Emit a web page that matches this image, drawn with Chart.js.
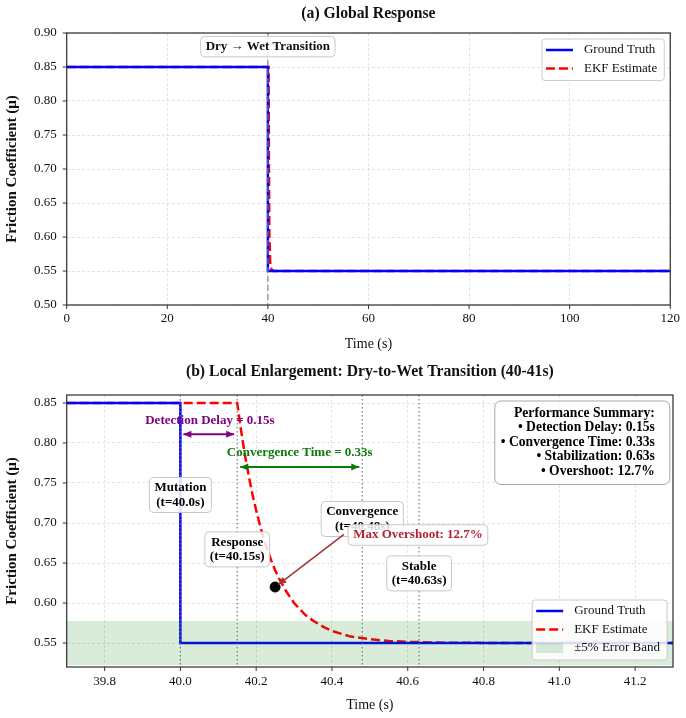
<!DOCTYPE html>
<html>
<head>
<meta charset="utf-8">
<script src="https://cdn.jsdelivr.net/npm/chart.js@4.4.1/dist/chart.umd.min.js"></script>
<style>
  html, body { margin: 0; padding: 0; background: #fff; }
  #wrap { position: relative; width: 686px; height: 718px; }
  canvas { position: absolute; left: 0; }
</style>
</head>
<body>
<div id="wrap">
  <canvas id="globalChart" width="686" height="359" style="top:0"></canvas>
  <canvas id="localChart" width="686" height="359" style="top:359px"></canvas>
</div>
<script>
// ---- data ----
const globalXTicks = [0, 20, 40, 60, 80, 100, 120];
const globalYTicks = [0.50, 0.55, 0.60, 0.65, 0.70, 0.75, 0.80, 0.85, 0.90];
const localXTicks = [39.8, 40.0, 40.2, 40.4, 40.6, 40.8, 41.0, 41.2];
const localYTicks = [0.55, 0.60, 0.65, 0.70, 0.75, 0.80, 0.85];

const globalTruthTime = [0, 40, 40, 120];
const globalTruthMu = [0.85, 0.85, 0.55, 0.55];
const globalEkfTime = [0, 40.15, 40.2, 40.3, 40.5, 41, 120];
const globalEkfMu = [0.85, 0.85, 0.716, 0.600, 0.555, 0.55, 0.55];

const localTruthTime = [39.7, 40.0, 40.0, 41.3];
const localTruthMu = [0.85, 0.85, 0.55, 0.55];
const localEkfTime = [39.7, 40.15, 40.16, 40.17, 40.18, 40.19, 40.20, 40.21, 40.22, 40.23, 40.24, 40.25, 40.26,
  40.28, 40.30, 40.33, 40.35, 40.38, 40.40, 40.45, 40.50, 40.55, 40.60, 40.70, 40.80, 41.3];
const localEkfMu = [0.85, 0.85, 0.816, 0.786, 0.760, 0.736, 0.716, 0.697, 0.680, 0.666, 0.653, 0.641, 0.631,
  0.614, 0.600, 0.585, 0.578, 0.5695, 0.565, 0.558, 0.5547, 0.5526, 0.5514, 0.5504, 0.5501, 0.55];

const bandTime = [39.7, 41.3];
const bandLow = [0.5225, 0.5225];
const bandHigh = [0.5775, 0.5775];

const eventTimes = [40.0, 40.15, 40.48, 40.63];
const eventNames = ['Mutation', 'Response', 'Convergence', 'Stable'];
const overshootTime = [40.25];
const overshootMu = [0.62];
const summaryLines = ['Performance Summary:', '• Detection Delay: 0.15s', '• Convergence Time: 0.33s',
  '• Stabilization: 0.63s', '• Overshoot: 12.7%'];

Chart.defaults.font.family = "'Liberation Serif', 'Times New Roman', serif";
Chart.defaults.color = '#111';

const FAM = "'Liberation Serif', serif";
const BOLD = "bold 13px " + FAM;
const REG = "13px " + FAM;

function pts(xs, ys) {
  return xs.map((x, i) => ({x: x, y: ys[i]}));
}

function drawText(ctx, cx, cy, lines, o) {
  ctx.font = o.font || BOLD;
  const lh = o.lineHeight || 14.5;
  const w = Math.max(...lines.map(t => ctx.measureText(t).width));
  const h = lh * lines.length;
  const left = o.align === 'right' ? cx - w : (o.align === 'left' ? cx : cx - w / 2);
  const top = o.valign === 'top' ? cy : cy - h / 2;
  const p = o.pad || [3, 5, 3, 5];
  const box = {left: left - p[3], top: top - p[0], w: w + p[1] + p[3], h: h + p[0] + p[2]};
  if (o.box) {
    ctx.beginPath();
    ctx.roundRect(box.left, box.top, box.w, box.h, o.radius || 4);
    ctx.fillStyle = 'rgba(255,255,255,0.85)';
    ctx.fill();
    ctx.lineWidth = 1;
    ctx.strokeStyle = o.edge || '#c8c8c8';
    ctx.stroke();
  }
  ctx.fillStyle = o.color || '#000';
  ctx.textBaseline = 'middle';
  ctx.textAlign = o.align === 'right' ? 'right' : (o.align === 'left' ? 'left' : 'center');
  lines.forEach((t, i) => ctx.fillText(t, cx, top + lh * (i + 0.5)));
  return box;
}

function head(ctx, x, y, ang, len, half) {
  ctx.beginPath();
  ctx.moveTo(x, y);
  ctx.lineTo(x - len * Math.cos(ang) + half * Math.sin(ang), y - len * Math.sin(ang) - half * Math.cos(ang));
  ctx.lineTo(x - len * Math.cos(ang) - half * Math.sin(ang), y - len * Math.sin(ang) + half * Math.cos(ang));
  ctx.closePath();
  ctx.fill();
}

function arrow(ctx, x0, y0, x1, y1, o) {
  const ang = Math.atan2(y1 - y0, x1 - x0);
  const s = o.shrink || 3;
  x0 += s * Math.cos(ang); y0 += s * Math.sin(ang);
  x1 -= s * Math.cos(ang); y1 -= s * Math.sin(ang);
  ctx.strokeStyle = o.color; ctx.fillStyle = o.color; ctx.lineWidth = o.width || 1.5;
  ctx.beginPath(); ctx.moveTo(x0, y0); ctx.lineTo(x1, y1); ctx.stroke();
  head(ctx, x1, y1, ang, o.len || 8, o.half || 3.5);
  if (o.both) head(ctx, x0, y0, ang + Math.PI, o.len || 8, o.half || 3.5);
}

function drawLegend(ctx, chart, o) {
  const a = chart.chartArea;
  const items = chart.data.datasets
    .filter(d => d.legendOrder !== undefined)
    .sort((p, q) => p.legendOrder - q.legendOrder);
  ctx.font = REG;
  const textW = Math.max(...items.map(d => ctx.measureText(d.label).width));
  const w = 4 + 27 + 11 + textW + 7;
  const h = 11 + 18.5 * (items.length - 1) + 12;
  const left = a.right - 6 - w;
  const top = o.corner === 'upper' ? a.top + 6 : a.bottom - 7 - h;
  ctx.beginPath();
  ctx.roundRect(left, top, w, h, 3);
  ctx.fillStyle = 'rgba(255,255,255,0.85)';
  ctx.fill();
  ctx.strokeStyle = '#cccccc'; ctx.lineWidth = 1; ctx.stroke();
  items.forEach((d, i) => {
    const cy = top + 11 + 18.5 * i;
    if (d.fill) {
      ctx.fillStyle = d.backgroundColor;
      ctx.fillRect(left + 4, cy - 5, 27, 10);
    } else {
      ctx.beginPath();
      ctx.setLineDash(d.borderDash || []);
      ctx.strokeStyle = d.borderColor; ctx.lineWidth = d.borderWidth;
      ctx.moveTo(left + 4, cy); ctx.lineTo(left + 31, cy); ctx.stroke();
      ctx.setLineDash([]);
    }
    ctx.fillStyle = '#111'; ctx.textAlign = 'left'; ctx.textBaseline = 'middle';
    ctx.fillText(d.label, left + 42, cy);
  });
}

const decor = {
  id: 'decor',
  afterDatasetsDraw(chart, args, opts) {
    const {ctx, chartArea: a} = chart;
    const x = chart.scales.x, y = chart.scales.y;
    ctx.save();
    (opts.vlines || []).forEach(v => {
      const px = x.getPixelForValue(v.x);
      ctx.beginPath(); ctx.setLineDash(v.dash); ctx.lineWidth = v.width; ctx.strokeStyle = v.color;
      ctx.moveTo(px, a.top); ctx.lineTo(px, a.bottom); ctx.stroke();
    });
    ctx.setLineDash([]);
    // axes frame + outward ticks
    ctx.strokeStyle = '#333'; ctx.lineWidth = 1.25;
    ctx.strokeRect(a.left, a.top, a.width, a.height);
    ctx.lineWidth = 1;
    x.ticks.forEach(t => {
      const px = x.getPixelForValue(t.value);
      ctx.beginPath(); ctx.moveTo(px, a.bottom); ctx.lineTo(px, a.bottom + 4); ctx.stroke();
    });
    y.ticks.forEach(t => {
      const py = y.getPixelForValue(t.value);
      ctx.beginPath(); ctx.moveTo(a.left - 4, py); ctx.lineTo(a.left, py); ctx.stroke();
    });
    (opts.arrows || []).forEach(ar => {
      arrow(ctx, x.getPixelForValue(ar.from[0]), y.getPixelForValue(ar.from[1]),
        x.getPixelForValue(ar.to[0]), y.getPixelForValue(ar.to[1]), ar);
    });
    (opts.labels || []).forEach(lb => {
      const cx = lb.ax !== undefined ? a.left + lb.ax * a.width : x.getPixelForValue(lb.x);
      const cy = lb.ay !== undefined ? a.top + lb.ay : y.getPixelForValue(lb.y);
      const box = drawText(ctx, cx, cy, lb.lines, lb);
      if (lb.arrowTo) {
        arrow(ctx, box.left - 1, cy - 3, x.getPixelForValue(lb.arrowTo[0]), y.getPixelForValue(lb.arrowTo[1]),
          {color: lb.arrowColor, width: 1.5, shrink: 4, len: 8, half: 3.5});
      }
    });
    if (opts.legend) drawLegend(ctx, chart, opts.legend);
    // panel title centred over the axes
    if (opts.title) {
      ctx.font = 'bold 15.7px ' + FAM;
      ctx.fillStyle = '#111'; ctx.textAlign = 'center'; ctx.textBaseline = 'middle';
      ctx.fillText(opts.title.text, (a.left + a.right) / 2, opts.title.y);
    }
    ctx.restore();
  }
};

function scalesFor(c) {
  return {
    x: {
      type: 'linear', min: c.xMin, max: c.xMax,
      afterBuildTicks: s => { s.ticks = c.xTicks.map(v => ({value: v})); },
      afterFit: s => { s.height = c.xHeight; },
      ticks: {padding: c.xTickPad, autoSkip: false, maxRotation: 0, color: '#111', font: {size: 13},
        callback: v => v.toFixed(c.xDigits)},
      grid: {color: 'rgba(170,170,170,0.4)', lineWidth: 0.8, drawTicks: false},
      border: {display: false, dash: [3, 2]},
      title: {display: true, text: 'Time (s)', color: '#111', font: {size: 14}, padding: {top: 0, bottom: c.xTitlePad}}
    },
    y: {
      type: 'linear', min: c.yMin, max: c.yMax,
      afterBuildTicks: s => { s.ticks = c.yTicks.map(v => ({value: v})); },
      afterFit: s => { s.width = 66.7; },
      ticks: {padding: 10, autoSkip: false, color: '#111', font: {size: 13}, callback: v => v.toFixed(2)},
      grid: {color: 'rgba(170,170,170,0.4)', lineWidth: 0.8, drawTicks: false},
      border: {display: false, dash: [3, 2]},
      title: {display: true, text: 'Friction Coefficient (μ)', color: '#111',
        font: {size: 15, weight: 'bold'}, padding: {top: 3, bottom: 0}}
    }
  };
}

const lineBase = {pointRadius: 0, tension: 0, fill: false, borderJoinStyle: 'miter'};

new Chart(document.getElementById('globalChart'), {
  type: 'line',
  data: {
    datasets: [
      Object.assign({label: 'Ground Truth', data: pts(globalTruthTime, globalTruthMu),
        borderColor: '#0000ff', borderWidth: 2.5, legendOrder: 0}, lineBase),
      Object.assign({label: 'EKF Estimate', data: pts(globalEkfTime, globalEkfMu),
        borderColor: '#ff0000', borderWidth: 2.5, borderDash: [9, 4], legendOrder: 1}, lineBase)
    ]
  },
  options: {
    responsive: false, animation: false,
    layout: {padding: {left: 0, right: 13, top: 33, bottom: 0}},
    plugins: {
      legend: {display: false}, tooltip: {enabled: false}, title: {display: false},
      decor: {
        title: {text: '(a) Global Response', y: 14},
        vlines: [{x: eventTimes[0], color: 'rgba(128,128,128,0.75)', dash: [6, 3], width: 1.5}],
        labels: [{x: eventTimes[0], y: 0.88, lines: ['Dry → Wet Transition'], box: true, color: '#111'}],
        legend: {corner: 'upper'}
      }
    },
    scales: scalesFor({xMin: 0, xMax: 120, xTicks: globalXTicks, xDigits: 0, xHeight: 54, xTickPad: 6, xTitlePad: 6,
      yMin: 0.50, yMax: 0.90, yTicks: globalYTicks})
  },
  plugins: [decor]
});

new Chart(document.getElementById('localChart'), {
  type: 'line',
  data: {
    datasets: [
      Object.assign({label: 'band low', data: pts(bandTime, bandLow), borderWidth: 0, borderColor: 'rgba(0,0,0,0)'}, lineBase),
      Object.assign({}, lineBase, {label: '±5% Error Band', data: pts(bandTime, bandHigh), borderWidth: 0,
        borderColor: 'rgba(0,0,0,0)', backgroundColor: 'rgba(0,128,0,0.15)', fill: '-1', legendOrder: 2}),
      Object.assign({label: 'Ground Truth', data: pts(localTruthTime, localTruthMu),
        borderColor: '#0000ff', borderWidth: 2.5, legendOrder: 0}, lineBase),
      Object.assign({label: 'EKF Estimate', data: pts(localEkfTime, localEkfMu),
        borderColor: '#ff0000', borderWidth: 2.5, borderDash: [9, 4], legendOrder: 1}, lineBase),
      {label: 'Max overshoot', data: pts(overshootTime, overshootMu), showLine: false,
        pointRadius: 5, pointBackgroundColor: '#000', pointBorderColor: '#000', borderColor: '#000'}
    ]
  },
  options: {
    responsive: false, animation: false,
    layout: {padding: {left: 0, right: 13, top: 36, bottom: 0}},
    plugins: {
      legend: {display: false}, tooltip: {enabled: false}, title: {display: false},
      decor: {
        title: {text: '(b) Local Enlargement: Dry-to-Wet Transition (40-41s)', y: 13},
        vlines: eventTimes.map(t => ({x: t, color: 'rgba(110,110,110,0.85)', dash: [1.5, 2.5], width: 1.3})),
        arrows: [
          {from: [eventTimes[0], 0.811], to: [eventTimes[1], 0.811], color: '#800080', width: 2, both: true, shrink: 3},
          {from: [eventTimes[1], 0.770], to: [eventTimes[2], 0.770], color: '#0a7a0a', width: 2, both: true, shrink: 3}
        ],
        labels: [
          {x: 40.078, y: 0.828, lines: ['Detection Delay = 0.15s'], color: '#800080'},
          {x: 40.315, y: 0.788, lines: ['Convergence Time = 0.33s'], color: '#0a7a0a'},
          {x: eventTimes[0], y: 0.735, lines: [eventNames[0], '(t=40.0s)'], box: true},
          {x: eventTimes[1], y: 0.667, lines: [eventNames[1], '(t=40.15s)'], box: true},
          {x: eventTimes[2], y: 0.705, lines: [eventNames[2], '(t=40.48s)'], box: true},
          {x: eventTimes[3], y: 0.637, lines: [eventNames[3], '(t=40.63s)'], box: true},
          {x: 40.627, y: 0.685, lines: ['Max Overshoot: 12.7%'], box: true, color: '#b22234',
            arrowTo: [overshootTime[0], overshootMu[0]], arrowColor: '#a33333'},
          {ax: 0.97, ay: 11, valign: 'top', align: 'right', lines: summaryLines, box: true,
            font: 'bold 13.6px ' + FAM, pad: [5, 15, 6, 6], radius: 6, edge: '#a8a8a8'}
        ],
        legend: {corner: 'lower'}
      }
    },
    scales: scalesFor({xMin: 39.7, xMax: 41.3, xTicks: localXTicks, xDigits: 1, xHeight: 51, xTickPad: 7, xTitlePad: 4,
      yMin: 0.52, yMax: 0.86, yTicks: localYTicks})
  },
  plugins: [decor]
});
</script>
</body>
</html>
